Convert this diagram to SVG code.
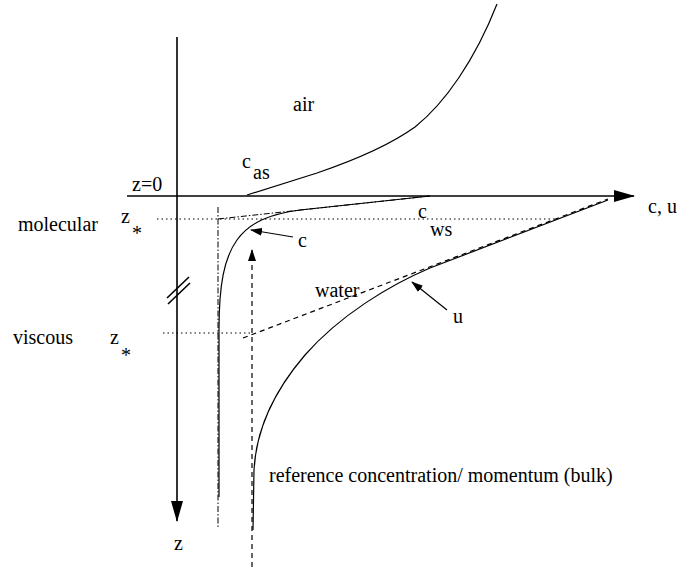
<svg xmlns="http://www.w3.org/2000/svg" width="682" height="570" viewBox="0 0 682 570">
<style>
text{font-family:"Liberation Serif","Times New Roman",serif;font-size:20px;fill:#000}
.ax{stroke:#000;stroke-width:1.6;fill:none}
.cv{stroke:#000;stroke-width:1.2;fill:none}
.dot{stroke:#000;stroke-width:1;fill:none;stroke-dasharray:1.5 3}
.dash{stroke:#000;stroke-width:1.2;fill:none;stroke-dasharray:5 4}
.dd{stroke:#000;stroke-width:1;fill:none;stroke-dasharray:6 2 1.5 2}
</style>
<defs>
<marker id="big" markerWidth="22" markerHeight="12" refX="20" refY="6" orient="auto" markerUnits="userSpaceOnUse"><path d="M0,0 L21,6 L0,12 Z" fill="#000"/></marker>
<marker id="sm" markerWidth="12" markerHeight="8" refX="11" refY="4" orient="auto" markerUnits="userSpaceOnUse"><path d="M0,0 L12,4 L0,8 Z" fill="#000"/></marker>
</defs>
<g id="connectors">
<line id="z-axis" class="ax" x1="177" y1="37" x2="177" y2="521" marker-end="url(#big)"/>
<line id="c-axis" class="ax" x1="127" y1="196" x2="634" y2="196" marker-end="url(#big)"/>
<line class="ax" x1="167" y1="298" x2="189" y2="277" stroke-width="1"/>
<line class="ax" x1="168" y1="304" x2="190" y2="283" stroke-width="1"/>
<line class="dot" x1="157" y1="219" x2="555" y2="219"/>
<line class="dot" x1="163" y1="333" x2="253" y2="333"/>
<line class="dd" x1="218" y1="207" x2="218" y2="527"/>
<line class="dd" x1="218" y1="219" x2="430" y2="196"/>
<line class="dash" x1="243" y1="338" x2="608" y2="199"/>
<line class="dash" x1="252" y1="567" x2="252" y2="250" marker-end="url(#sm)"/>
<path id="air-curve" class="cv" d="M247,195 L317,173 C355,160 390,145 415,127 C445,103 475,60 497,4"/>
<path id="c-curve" class="cv" d="M430,196 L300,210 C270,214 250,222 237,240 C224,258 219,285 219,330 L219,497"/>
<path id="u-curve" class="cv" d="M608,200 L430,268 C390,285 340,315 305,355 C275,390 256,430 254,470 L253,530"/>
<line class="cv" x1="293" y1="237" x2="251" y2="230" marker-end="url(#sm)"/>
<line class="cv" x1="447" y1="310" x2="412" y2="282" marker-end="url(#sm)"/>
</g>
<g id="labels">
<text x="132" y="191">z=0</text>
<text x="242" y="168">c</text>
<text x="253" y="179">as</text>
<text x="293" y="111">air</text>
<text x="418" y="218">c</text>
<text x="430" y="236">ws</text>
<text x="298" y="247">c</text>
<text x="453" y="323">u</text>
<text x="315" y="297">water</text>
<text x="648" y="213">c, u</text>
<text x="18" y="231">molecular</text>
<text x="121" y="223">z</text>
<text x="132" y="240">*</text>
<text x="13" y="344">viscous</text>
<text x="110" y="344">z</text>
<text x="121" y="362">*</text>
<text x="269" y="482">reference concentration/ momentum (bulk)</text>
<text x="174" y="550">z</text>
</g>
</svg>
